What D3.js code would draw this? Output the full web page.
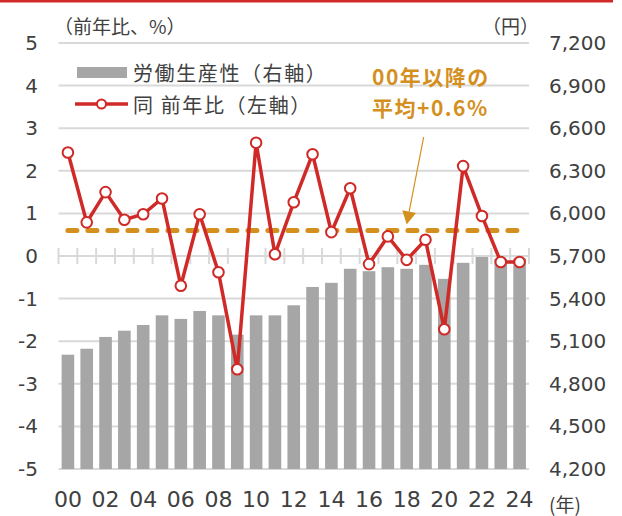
<!DOCTYPE html>
<html>
<head>
<meta charset="utf-8">
<script src="https://cdn.jsdelivr.net/npm/d3@7"></script>
<style>
  body { margin: 0; background: #fff; }
  svg { display: block; }
</style>
</head>
<body>
<div id="parentDiv"></div>
<script>
// data
const yearLabels = ["00","01","02","03","04","05","06","07","08","09","10","11","12",
                    "13","14","15","16","17","18","19","20","21","22","23","24"];
const shownYears = ["00","02","04","06","08","10","12","14","16","18","20","22","24"];
// 労働生産性 (円, right axis)
const productivity = [5005, 5047, 5130, 5174, 5214, 5282, 5257, 5313, 5282, 5146, 5282, 5282, 5353,
                      5482, 5511, 5610, 5593, 5621, 5610, 5638, 5539, 5652, 5699, 5680, 5682];
// 同 前年比 (%, left axis)
const growth = [2.43, 0.79, 1.50, 0.85, 0.98, 1.35, -0.70, 0.98, -0.38, -2.66, 2.66, 0.04, 1.26,
                2.39, 0.56, 1.59, -0.19, 0.46, -0.09, 0.38, -1.72, 2.11, 0.94, -0.14, -0.14];
const avgGrowth = 0.6;
const leftTicks = [-5, -4, -3, -2, -1, 0, 1, 2, 3, 4, 5];
const rightTicks = [4200, 4500, 4800, 5100, 5400, 5700, 6000, 6300, 6600, 6900, 7200];

const red = "#CF2A27";
const gold = "#D4901F";
const barGrey = "#A6A6A6";
const gridGrey = "#D9D9D9";
const textCol = "#404040";
const numFont = "'DejaVu Sans', Verdana, sans-serif";
const jpFont = "'Noto Sans CJK JP', sans-serif";

const width = 622;
const height = 516;

const svg = d3.select('#parentDiv').append('svg')
  .attr('width', width)
  .attr('height', height);

// scales
const x = d3.scaleBand()
  .domain(yearLabels)
  .range([58.5, 529])
  .paddingInner(0.33)
  .paddingOuter(0.165);
const yL = d3.scaleLinear().domain([-5, 5]).range([469, 43]);
const yR = d3.scaleLinear().domain([4200, 7200]).range([469, 43]);
const cx = d => x(d) + x.bandwidth() / 2;

// top red rule
svg.append('rect')
  .attr('x', 0).attr('y', 0)
  .attr('width', 613).attr('height', 2.5)
  .attr('fill', red);

// gridlines
svg.append('g').selectAll('line')
  .data(leftTicks.filter(d => d !== 0))
  .enter().append('line')
  .attr('x1', 58.5).attr('x2', 529)
  .attr('y1', d => yL(d)).attr('y2', d => yL(d))
  .attr('stroke', gridGrey)
  .attr('stroke-width', 2);

// bars
svg.append('g').selectAll('rect')
  .data(productivity)
  .enter().append('rect')
  .attr('x', (d, i) => x(yearLabels[i]))
  .attr('y', d => yR(d))
  .attr('width', x.bandwidth())
  .attr('height', d => yR(4200) - yR(d))
  .attr('fill', barGrey);

// zero axis with category ticks
const zeroY = yL(0);
svg.append('line')
  .attr('x1', 58.5).attr('x2', 529)
  .attr('y1', zeroY).attr('y2', zeroY)
  .attr('stroke', gridGrey)
  .attr('stroke-width', 2);
svg.append('g').selectAll('line')
  .data(d3.range(yearLabels.length + 1))
  .enter().append('line')
  .attr('x1', i => 58.5 + i * x.step()).attr('x2', i => 58.5 + i * x.step())
  .attr('y1', zeroY - 8).attr('y2', zeroY + 8)
  .attr('stroke', gridGrey)
  .attr('stroke-width', 2);

// average dashed line
svg.append('line')
  .attr('x1', cx("00")).attr('x2', cx("24"))
  .attr('y1', yL(avgGrowth)).attr('y2', yL(avgGrowth))
  .attr('stroke', gold)
  .attr('stroke-width', 5)
  .attr('stroke-linecap', 'round')
  .attr('stroke-dasharray', '9,11');

// growth line + markers
const line = d3.line()
  .x((d, i) => cx(yearLabels[i]))
  .y(d => yL(d));
svg.append('path')
  .datum(growth)
  .attr('d', line)
  .attr('fill', 'none')
  .attr('stroke', red)
  .attr('stroke-width', 3.5);
svg.append('g').selectAll('circle')
  .data(growth)
  .enter().append('circle')
  .attr('cx', (d, i) => cx(yearLabels[i]))
  .attr('cy', d => yL(d))
  .attr('r', 5.3)
  .attr('fill', '#fff')
  .attr('stroke', red)
  .attr('stroke-width', 2);

// axes
function styleAxis(g) {
  g.select('.domain').remove();
  g.selectAll('line').remove();
  g.selectAll('text').attr('fill', textCol).attr('font-family', numFont);
}
svg.append('g')
  .attr('transform', 'translate(38,0)')
  .call(d3.axisLeft(yL).tickValues(leftTicks).tickSize(0).tickPadding(0).tickFormat(d => String(d)))
  .call(styleAxis)
  .selectAll('text').attr('font-size', '20px');

svg.append('g')
  .attr('transform', 'translate(549,0)')
  .call(d3.axisRight(yR).tickValues(rightTicks).tickSize(0).tickPadding(0).tickFormat(d3.format(",")))
  .call(styleAxis)
  .selectAll('text').attr('font-size', '20px');

svg.append('g')
  .attr('transform', 'translate(0,469)')
  .call(d3.axisBottom(x).tickValues(shownYears).tickSize(0).tickPadding(22))
  .call(styleAxis)
  .selectAll('text').attr('font-size', '22px');

// unit labels
svg.append('text')
  .attr('x', 54).attr('y', 25)
  .attr('dominant-baseline', 'central')
  .attr('font-family', jpFont).attr('font-size', '19px')
  .attr('fill', textCol)
  .text('（前年比、%）');
svg.append('text')
  .attr('x', 482).attr('y', 25)
  .attr('dominant-baseline', 'central')
  .attr('font-family', jpFont).attr('font-size', '19px')
  .attr('fill', textCol)
  .text('（円）');
svg.append('text')
  .attr('x', 549).attr('y', 503)
  .attr('dominant-baseline', 'central')
  .attr('font-family', jpFont).attr('font-size', '19px')
  .attr('fill', textCol)
  .text('(年)');

// legend
const legend = svg.append('g').attr('class', 'legend');
legend.append('rect')
  .attr('x', 77).attr('y', 67)
  .attr('width', 50).attr('height', 11)
  .attr('fill', barGrey);
legend.append('text')
  .attr('x', 133).attr('y', 72)
  .attr('dominant-baseline', 'central')
  .attr('font-family', jpFont).attr('font-size', '20px')
  .attr('letter-spacing', '1.6px')
  .attr('fill', textCol)
  .text('労働生産性（右軸）');
legend.append('line')
  .attr('x1', 75).attr('x2', 128)
  .attr('y1', 104).attr('y2', 104)
  .attr('stroke', red).attr('stroke-width', 3.5);
legend.append('circle')
  .attr('cx', 101.5).attr('cy', 104).attr('r', 4.5)
  .attr('fill', '#fff').attr('stroke', red).attr('stroke-width', 2);
legend.append('text')
  .attr('x', 133).attr('y', 104)
  .attr('dominant-baseline', 'central')
  .attr('font-family', jpFont).attr('font-size', '20px')
  .attr('letter-spacing', '1.6px')
  .attr('fill', textCol)
  .text('同 前年比（左軸）');

// annotation
const note = svg.append('g')
  .attr('font-family', jpFont).attr('font-size', '21px')
  .attr('font-weight', 700).attr('fill', gold)
  .attr('letter-spacing', '1.5px')
  .attr('dominant-baseline', 'central');
note.append('text').attr('x', 372).attr('y', 76).text('00年以降の');
note.append('text').attr('x', 372).attr('y', 107).text('平均+0.6%');

// arrow pointing at the average line
const tip = [cx("18"), yL(avgGrowth) - 6];
const start = [tip[0] + 17, 137];
const len = Math.hypot(start[0] - tip[0], start[1] - tip[1]);
const ux = (tip[0] - start[0]) / len, uy = (tip[1] - start[1]) / len;
const headLen = 13, headHalf = 7;
const base = [tip[0] - ux * headLen, tip[1] - uy * headLen];
svg.append('line')
  .attr('x1', start[0]).attr('y1', start[1])
  .attr('x2', base[0]).attr('y2', base[1])
  .attr('stroke', gold).attr('stroke-width', 1.2);
svg.append('polygon')
  .attr('points', [
    tip,
    [base[0] - uy * headHalf, base[1] + ux * headHalf],
    [base[0] + uy * headHalf, base[1] - ux * headHalf]
  ].map(p => p.join(',')).join(' '))
  .attr('fill', gold);
</script>
</body>
</html>
